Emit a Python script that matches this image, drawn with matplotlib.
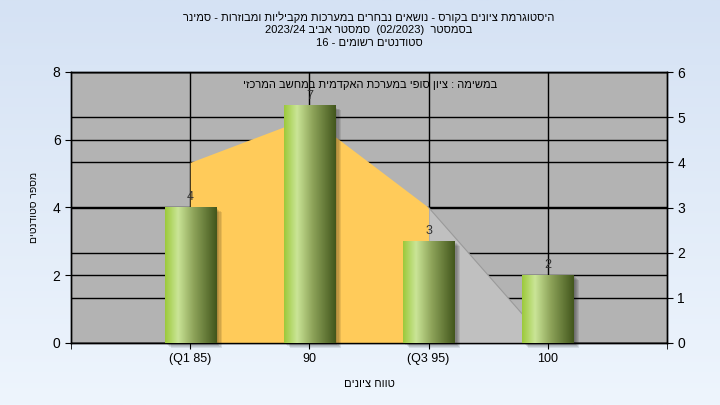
import numpy as np
import matplotlib.pyplot as plt
import matplotlib.transforms as mtransforms
from matplotlib.colors import LinearSegmentedColormap
from matplotlib.patches import Rectangle

plt.rcParams['font.family'] = ['Liberation Sans', 'DejaVu Sans']


def heb(s):
    # matplotlib has no bidi support, so Hebrew is given in visual order
    return s[::-1]


categories = ['(Q1 85)', '90', '(Q3 95)', '100']
students = [4, 7, 3, 2]
curve = [4, 5, 3, 0]  # area on the right axis
curve_colors = ['#ffcb5a', '#ffcb5a', '#c0c0c0']

title_lines = [
    heb('היסטוגרמת ציונים בקורס - נושאים נבחרים במערכות מקביליות ומבוזרות - סמינר'),
    '2023/24 ' + heb('סמסטר אביב') + '  (02/2023)  ' + heb('בסמסטר'),
    '16 - ' + heb('סטודנטים רשומים'),
]
note = heb('במשימה : ציון סופי במערכת האקדמית במחשב המרכזי')
xlabel = heb('טווח ציונים')
ylabel = heb('מספר סטודנטים')

fig = plt.figure(figsize=(7.2, 4.05), dpi=100)

# background gradient
bg = fig.add_axes([0, 0, 1, 1], zorder=-10)
bg_cmap = LinearSegmentedColormap.from_list('bg', ['#d5e2f4', '#eef5fd'])
bg.imshow(np.linspace(0, 1, 256).reshape(-1, 1), cmap=bg_cmap, aspect='auto', extent=[0, 1, 0, 1])
bg.axis('off')

ax = fig.add_axes([71 / 720, 1 - 343 / 405, 596 / 720, 271 / 405])
ax2 = ax.twinx()
ax.set_zorder(2)
ax.patch.set_visible(False)
ax2.patch.set_visible(True)
ax2.patch.set_facecolor('#b3b3b3')

x = np.arange(len(categories))

# area series drawn in right-axis units but inside the top axes
for i in range(len(curve) - 1):
    ax.fill_between(x[i:i + 2], 0, curve[i:i + 2], color=curve_colors[i], lw=0,
                    transform=ax2.transData, zorder=1)
ax.plot(x[2:], curve[2:], color='#9a9a9a', lw=0.8, transform=ax2.transData, zorder=1.1)

# bars with shadow and cylinder gradient
bars = ax.bar(x, students, width=0.43, color='none', zorder=3)
bar_cmap = LinearSegmentedColormap.from_list(
    'bar', [(0, '#9cc93a'), (0.25, '#cae597'), (0.55, '#8ea45a'), (1, '#42561c')])
grad = np.linspace(0, 1, 256).reshape(1, -1)
for b in bars:
    bx, by, bw, bh = b.get_x(), b.get_y(), b.get_width(), b.get_height()
    for k in range(1, 6):
        tr = mtransforms.offset_copy(ax.transData, fig=fig, x=k * 1.2, y=-k * 0.9, units='dots')
        ax.add_patch(Rectangle((bx, by), bw, bh, facecolor='black', alpha=0.09,
                               lw=0, transform=tr, zorder=2, clip_on=False))
    ax.imshow(grad, cmap=bar_cmap, aspect='auto', extent=[bx, bx + bw, by, by + bh], zorder=3)

ax.bar_label(bars, padding=3, fontsize=9, color='#333333')

ax.set_xlim(-1, 4)
ax.set_ylim(0, 8)
ax2.set_ylim(0, 6)
ax.set_xticks(x, categories)
ax.set_xticks([-1, 4], minor=True)
ax.set_yticks([0, 2, 4, 6, 8])
ax2.set_yticks(range(7))

ax.set_axisbelow(True)
ax.grid(True, color='black', lw=1)
ax2.grid(True, axis='y', color='black', lw=1)
ax2.set_axisbelow(True)

ax.tick_params(which='both', length=4, direction='out', labelsize=10, colors='black')
ax.tick_params(axis='x', labelsize=9)
ax2.tick_params(length=4, direction='out', labelsize=10)
for a in (ax, ax2):
    for s in a.spines.values():
        s.set_color('black')
        s.set_linewidth(1)

ax.set_xlabel(xlabel, fontsize=8, labelpad=10)
ax.set_ylabel(ylabel, fontsize=7.5, labelpad=10)

ax.text(0.502, 0.952, note, transform=ax.transAxes, ha='center', va='center', fontsize=8, zorder=5)

for i, line in enumerate(title_lines):
    fig.text(369 / 720, 1 - (17 + 13 * i) / 405, line, ha='center', va='center', fontsize=8)

fig.savefig('out.png', dpi=100)
